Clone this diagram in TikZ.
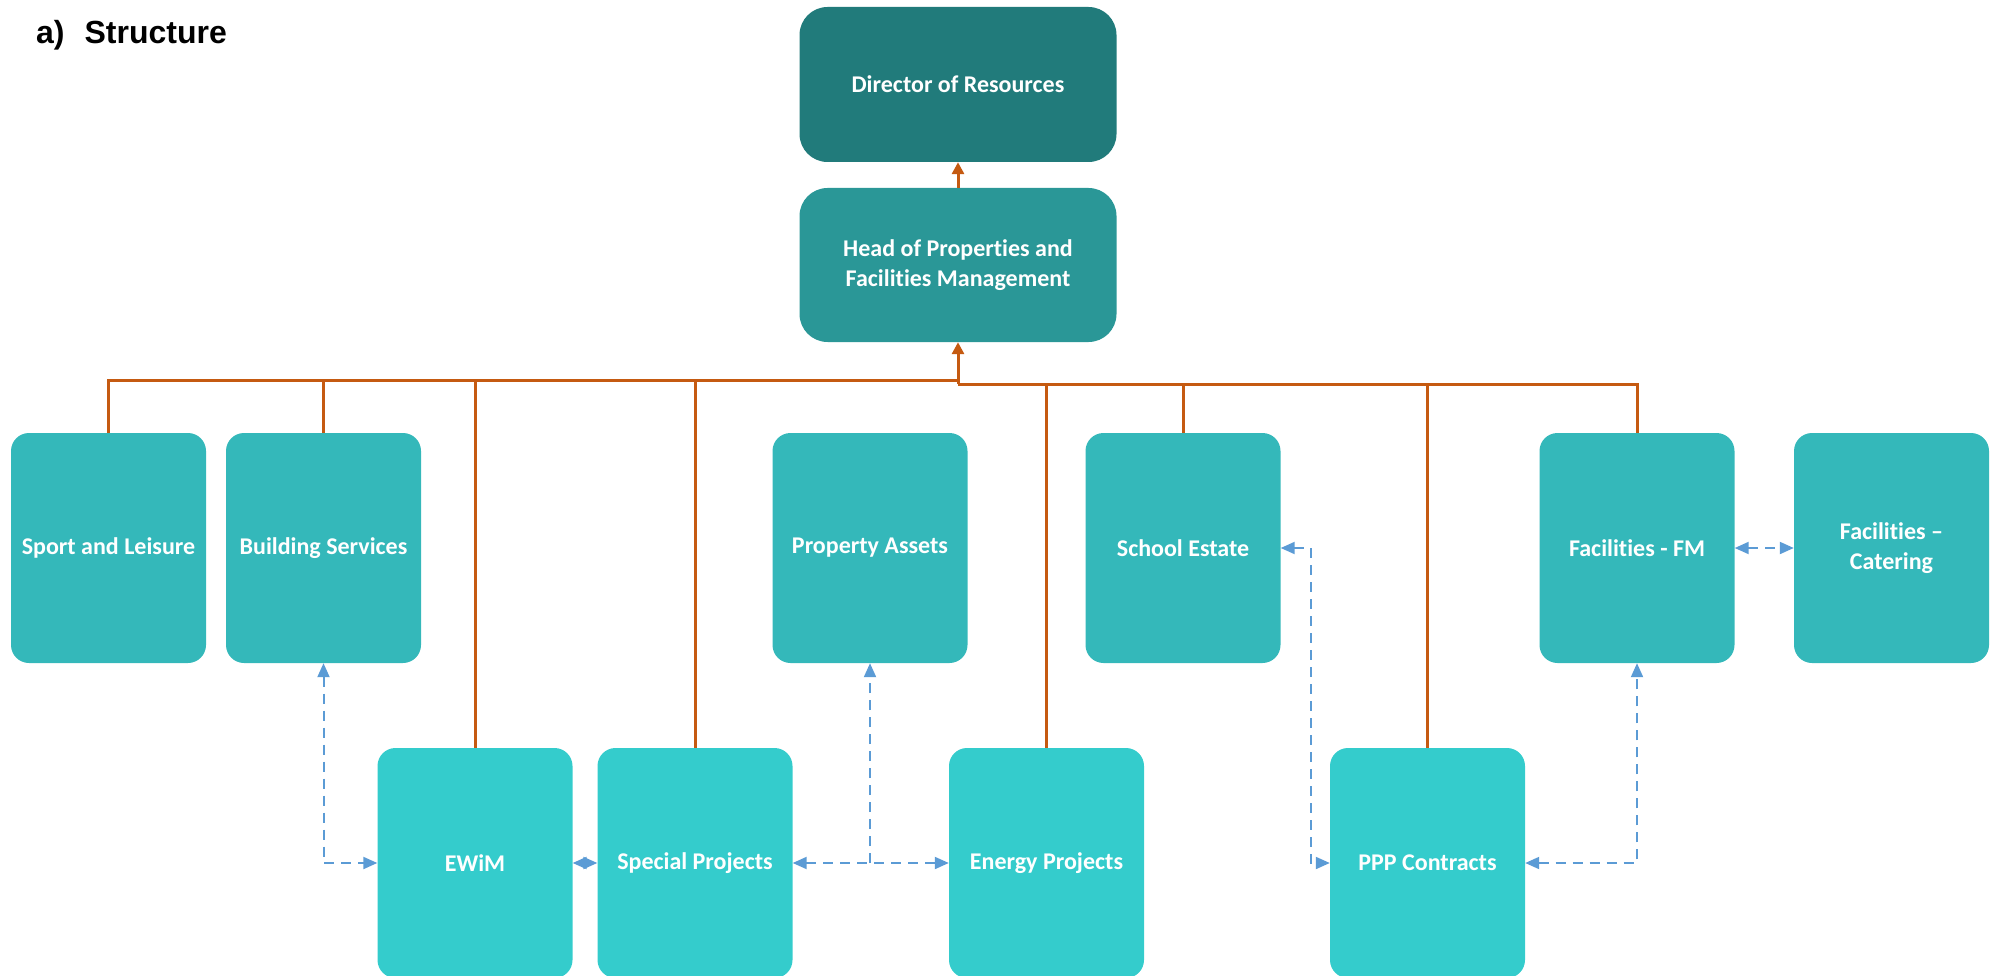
\documentclass[tikz,border=0pt]{standalone}
\usepackage{fontspec}
\setmainfont{Carlito}[Ligatures=NoCommon]
\newfontfamily\arialfont{Liberation Sans}
\usetikzlibrary{arrows.meta}
\definecolor{dirc}{HTML}{217B7B}
\definecolor{headc}{HTML}{2A9797}
\definecolor{topc}{HTML}{34B8BA}
\definecolor{botc}{HTML}{34CCCC}
\definecolor{orgc}{HTML}{C55A11}
\definecolor{bluc}{HTML}{5B9BD5}
\begin{document}
\begin{tikzpicture}[x=1pt,y=-1pt,
  boxbase/.style={draw=none, inner sep=0pt, align=center, text=white,
    font=\bfseries\fontsize{24}{30}\selectfont},
  bigbox/.style={boxbase, rounded corners=28pt, minimum width=317pt, minimum height=155pt},
  topbox/.style={boxbase, fill=topc, rounded corners=18pt, minimum width=195pt, minimum height=230pt},
  botbox/.style={boxbase, fill=botc, rounded corners=18pt, minimum width=195pt, minimum height=230pt},
  orgline/.style={draw=orgc, line width=3pt},
  bluline/.style={draw=bluc, line width=2pt, dash pattern=on 10pt off 7pt},
  btip/.style={{Triangle[width=12pt,length=14pt]}-{Triangle[width=12pt,length=14pt]}},
]
\useasboundingbox (0,0) rectangle (1994,976);

\node[anchor=base west, inner sep=0pt, font=\arialfont\bfseries\fontsize{32}{36}\selectfont] (title) at (36,44) {a)\hspace*{20pt}Structure};

\node[bigbox, fill=dirc] (dir) at (958,84.5) {Director of Resources};
\node[bigbox, fill=headc, minimum height=154pt] (head) at (958,265) {Head of Properties and\\Facilities Management};

\node[topbox] (sport) at (108.5,548) {Sport and Leisure};
\node[topbox] (build) at (323.5,548) {Building Services};
\node[topbox] (prop) at (870,548) {Property Assets};
\node[topbox] (school) at (1183,548) {School Estate};
\node[topbox] (fm) at (1637,548) {Facilities - FM};
\node[topbox] (cat) at (1891.5,548) {Facilities --\\Catering};

\node[botbox] (ewim) at (475,863) {EWiM};
\node[botbox] (spec) at (695,863) {Special Projects};
\node[botbox] (energy) at (1046.5,863) {Energy Projects};
\node[botbox] (ppp) at (1427.5,863) {PPP Contracts};

\coordinate (jl) at (958,380);
\coordinate (jr) at (958,384);

\draw[orgline, -{Triangle[width=12pt,length=12pt]}] (head.north) -- (dir.south);
\draw[orgline, -{Triangle[width=12pt,length=12pt]}] (jr) -- (head.south);
\draw[orgline] (sport.north) |- (jl);
\draw[orgline] (build.north) -- (build.north |- jl);
\draw[orgline] (ewim.north) -- (ewim.north |- jl);
\draw[orgline] (spec.north) -- (spec.north |- jl);
\draw[orgline] (fm.north) |- (jr);
\draw[orgline] (energy.north) -- (energy.north |- jr);
\draw[orgline] (school.north) -- (school.north |- jr);
\draw[orgline] (ppp.north) -- (ppp.north |- jr);

\coordinate (sv) at (1311,548);
\draw[bluline, btip] (build.south) |- (ewim.west);
\draw[bluline, btip] (ewim.east) -- (spec.west);
\draw[bluline, btip] (spec.east) -- (energy.west);
\draw[bluline, -{Triangle[width=12pt,length=14pt]}] (prop.south |- spec.east) -- (prop.south);
\draw[bluline, btip] (school.east) -- (sv) |- (ppp.west);
\draw[bluline, btip] (ppp.east) -| (fm.south);
\draw[bluline, btip] (fm.east) -- (cat.west);
\end{tikzpicture}
\end{document}
